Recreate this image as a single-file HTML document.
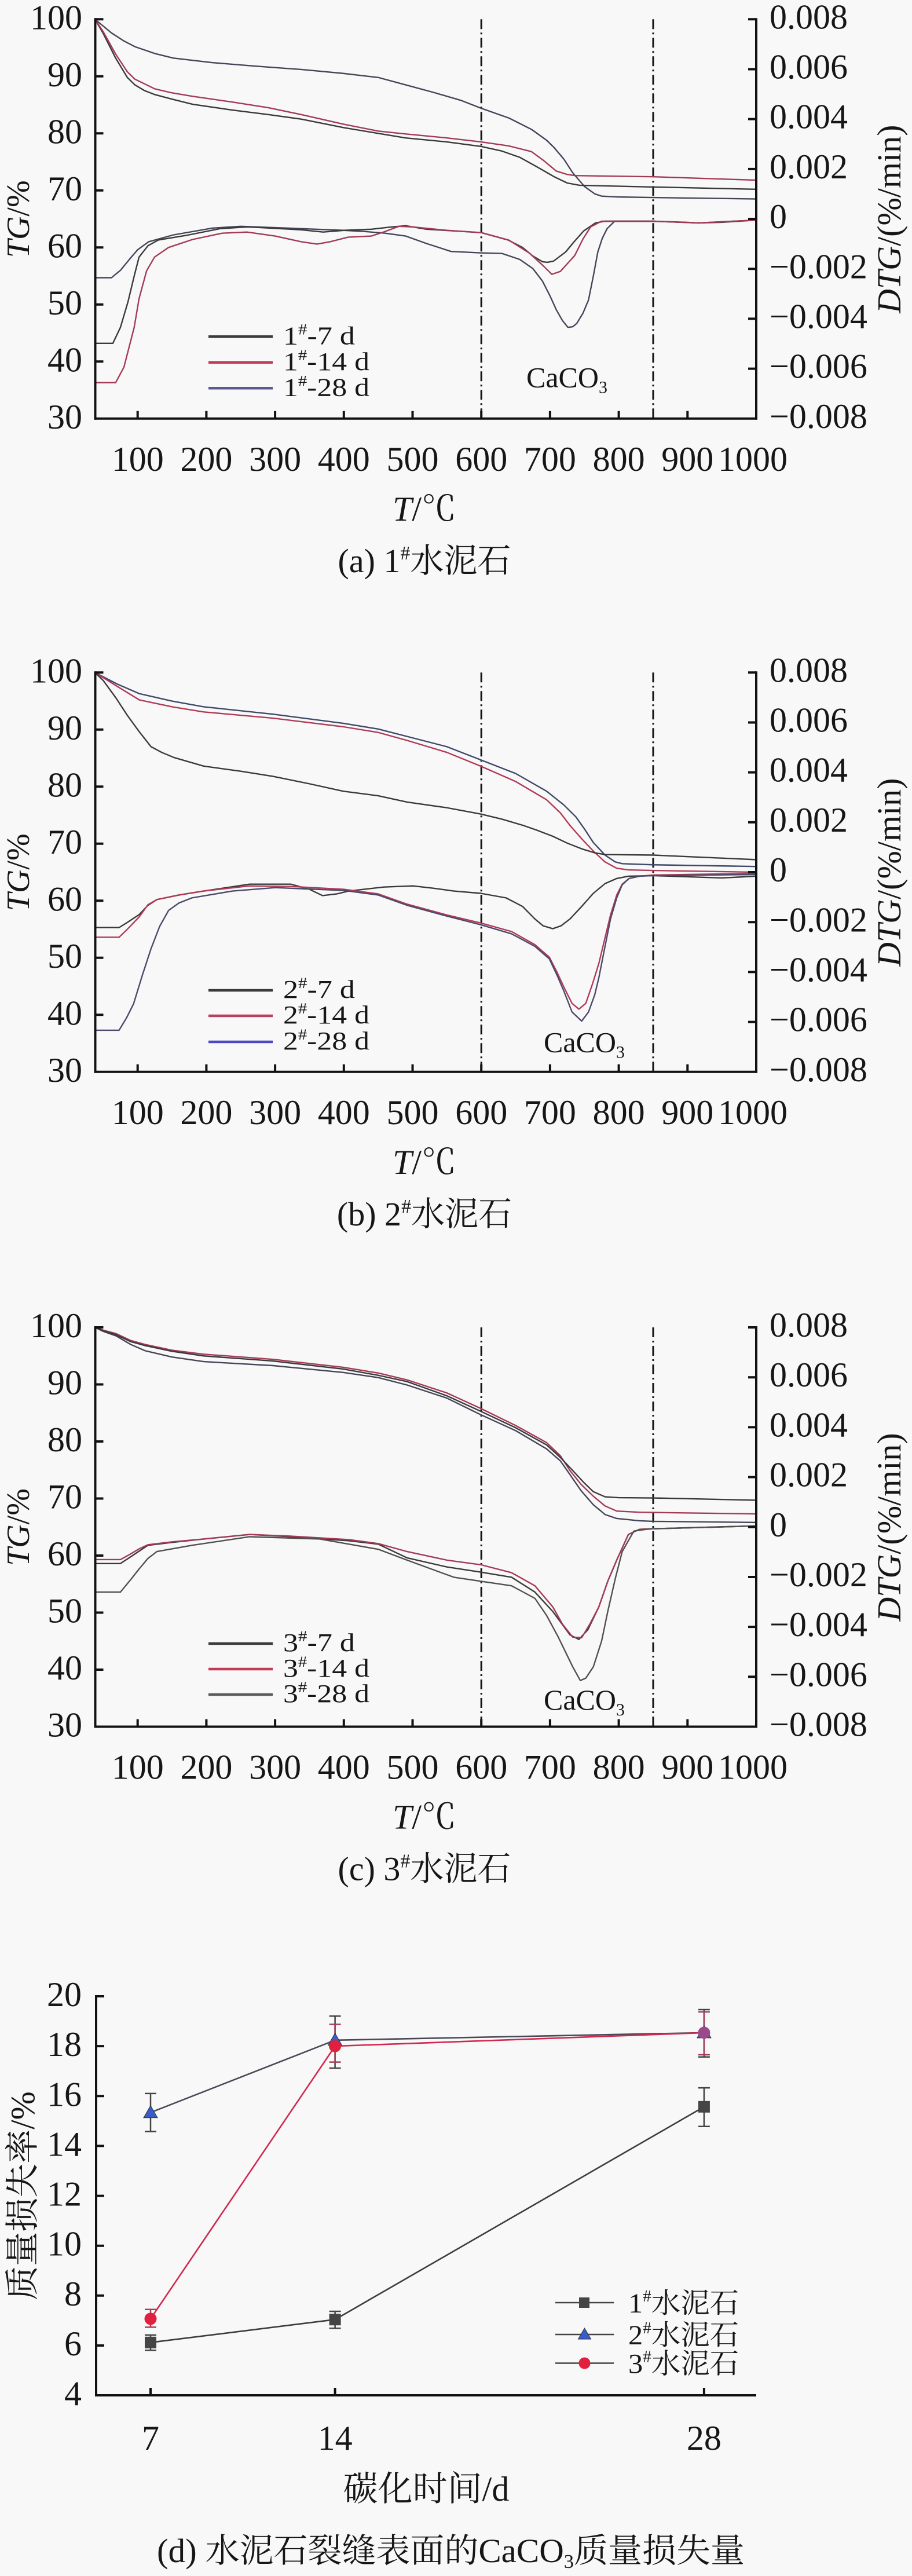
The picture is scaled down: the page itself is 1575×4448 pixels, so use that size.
<!DOCTYPE html>
<html><head><meta charset="utf-8">
<style>
html,body{margin:0;padding:0;background:#f8f8f8}
svg{display:block}
polyline.c{vector-effect:non-scaling-stroke;fill:none;stroke-width:2.4;stroke-linejoin:round;stroke-linecap:round}
</style></head>
<body>
<svg width="1575" height="4448" viewBox="0 0 1575 4448" xmlns="http://www.w3.org/2000/svg" font-family="'Liberation Serif','Noto Serif CJK SC',serif" fill="#161616">
<rect width="1575" height="4448" fill="#f8f8f8"/>

<!-- ================= PANEL (a) ================= -->
<g transform="translate(0,33.3)">
  <!-- dash-dot lines -->
  <g stroke="#111" stroke-width="3" stroke-dasharray="17 6 3 6">
    <line x1="831.2" y1="0" x2="831.2" y2="689.5"/>
    <line x1="1128" y1="0" x2="1128" y2="689.5"/>
  </g>
  <!-- curves -->
  <g transform="matrix(1.187 0 0 -9.85 119 985)">
    <polyline class="c" stroke="#45455a" points="38,100 50,98.8 62,97.6 80,96.2 96,95.2 125,94.0 152,93.2 209,92.4 270,91.8 338,91.2 400,90.5 450,89.8 490,88.5 530,87.2 570,85.8 600,84.4 640,82.7 673,80.7 695,78.8 706,77.5 720,75.5 733,73.1 750,70.7 765,69.4 775,69.0 800,68.85 850,68.75 1000,68.5"/>
    <polyline class="c" stroke="#3a3a3a" points="38,100 50,97.5 68,93.2 85,89.8 96,88.5 110,87.5 125,86.8 150,86.0 180,85.1 237,84.1 290,83.3 338,82.5 400,81.0 450,80.0 490,79.2 550,78.5 600,77.7 630,76.9 656,75.8 680,74.2 706,72.4 725,71.3 743,70.9 850,70.6 1000,70.2"/>
    <polyline class="c" stroke="#a33a56" points="38,100 50,97.8 68,93.9 85,90.8 96,89.5 125,87.8 150,87.1 180,86.5 237,85.5 290,84.5 338,83.3 400,81.6 450,80.4 490,79.9 550,79.2 600,78.5 640,77.8 673,76.8 690,75.3 709,73.4 725,72.8 736,72.6 850,72.4 1000,71.8"/>
    <polyline class="c" stroke="#45455a" points="38,54.7 62,54.7 75,56 90,58.2 100,59.6 116,61.0 152,62.2 209,63.4 250,63.7 338,63.3 400,63.0 430,62.8 460,62.5 490,62.0 520,60.7 556,59.3 600,59.05 630,58.95 656,57.9 675,56.3 689,54.1 700,51.5 709,49.1 718,47.2 726,46.0 733,46.1 739,46.7 748,48.5 756,50.8 763,55 769.5,59.2 776,61.6 783,63.3 794,64.6 850,64.6 900,64.4 916,64.3 950,64.4 1000,64.8"/>
    <polyline class="c" stroke="#3a3a3a" points="38,43.2 64,43.2 75,46 86,50.5 95,55 102,58.3 115,60.3 130,61.3 170,62.1 220,63.3 260,63.6 338,63.1 370,62.7 400,63.0 440,63.2 470,63.6 490,63.8 520,63.2 560,62.9 600,62.6 639,61.3 660,60 675,58.5 689,57.5 696,57.4 705,57.6 722.6,59.2 735,61 749,62.9 766,64.3 780,64.6 850,64.6 916,64.3 1000,64.8"/>
    <polyline class="c" stroke="#a33a56" points="38,36.3 68,36.3 80,39 95,46 102,51 113,55.9 124.5,58.3 145,60 180,61.4 223,62.5 259,62.7 300,62.0 338,61.0 361,60.6 380,61.0 406,61.8 440,62.0 460,62.8 480,63.7 500,63.6 550,63.0 600,62.6 640,61.3 670,59 690,56.8 702.6,55.3 715,55.8 736,58.6 748,61.5 759,63.6 775,64.6 850,64.6 916,64.3 1000,64.8"/>
  </g>
  <!-- axes -->
  <g stroke="#111" stroke-width="4" fill="none">
    <line x1="164.5" y1="-2" x2="164.5" y2="691.5"/>
    <line x1="1306" y1="-2" x2="1306" y2="691.5"/>
    <line x1="162.5" y1="689.5" x2="1308" y2="689.5"/>
    <path d="M164.5,0h14M164.5,98.5h14M164.5,197h14M164.5,295.5h14M164.5,394h14M164.5,492.5h14M164.5,591h14"/>
    <path d="M1306,0h-14M1306,86.19h-14M1306,172.38h-14M1306,258.56h-14M1306,344.75h-14M1306,430.94h-14M1306,517.13h-14M1306,603.31h-14"/>
    <path d="M237.7,689.5v-13M356.4,689.5v-13M475.1,689.5v-13M593.8,689.5v-13M712.5,689.5v-13M831.2,689.5v-13M949.9,689.5v-13M1068.6,689.5v-13M1187.3,689.5v-13"/>
  </g>
  <!-- tick labels -->
  <g font-size="60" text-anchor="end">
    <text x="142" y="17">100</text><text x="142" y="115.5">90</text><text x="142" y="214">80</text><text x="142" y="312.5">70</text><text x="142" y="411">60</text><text x="142" y="509.5">50</text><text x="142" y="608">40</text><text x="142" y="706.5">30</text>
  </g>
  <g font-size="60">
    <text x="1329" y="16">0.008</text><text x="1329" y="102.2">0.006</text><text x="1329" y="188.4">0.004</text><text x="1329" y="274.6">0.002</text><text x="1329" y="360.8">0</text><text x="1329" y="447">−0.002</text><text x="1329" y="533.1">−0.004</text><text x="1329" y="619.3">−0.006</text><text x="1329" y="705.5">−0.008</text>
  </g>
  <g font-size="60" text-anchor="middle">
    <text x="237.7" y="779.5">100</text><text x="356.4" y="779.5">200</text><text x="475.1" y="779.5">300</text><text x="593.8" y="779.5">400</text><text x="712.5" y="779.5">500</text><text x="831.2" y="779.5">600</text><text x="949.9" y="779.5">700</text><text x="1068.6" y="779.5">800</text><text x="1187.3" y="779.5">900</text><text x="1300" y="779.5">1000</text>
  </g>
  <text transform="translate(50,345) rotate(-90)" text-anchor="middle" font-size="56"><tspan font-style="italic">TG</tspan>/%</text>
  <text transform="translate(1555,345) rotate(-90)" text-anchor="middle" font-size="58"><tspan font-style="italic">DTG</tspan>/(%/min)</text>
  <text x="733" y="865.5" text-anchor="middle" font-size="60"><tspan font-style="italic">T</tspan>/℃</text>
  <text x="733" y="954.5" text-anchor="middle" font-size="58">(a) 1<tspan font-size="34" dy="-22">#</tspan><tspan dy="22">水泥石</tspan></text>
  <!-- legend -->
  <g stroke-width="4.5">
    <line x1="360" y1="548" x2="471" y2="548" stroke="#3a3a3a"/>
    <line x1="360" y1="592.5" x2="471" y2="592.5" stroke="#c23a5a"/>
    <line x1="360" y1="637" x2="471" y2="637" stroke="#5a5a90"/>
  </g>
  <g font-size="44">
    <text x="489" y="561" textLength="124" lengthAdjust="spacingAndGlyphs">1<tspan font-size="26" dy="-17">#</tspan><tspan dy="17">-7 d</tspan></text>
    <text x="489" y="605.5" textLength="149" lengthAdjust="spacingAndGlyphs">1<tspan font-size="26" dy="-17">#</tspan><tspan dy="17">-14 d</tspan></text>
    <text x="489" y="650" textLength="149" lengthAdjust="spacingAndGlyphs">1<tspan font-size="26" dy="-17">#</tspan><tspan dy="17">-28 d</tspan></text>
  </g>
  <text x="909" y="635" font-size="50">CaCO<tspan font-size="30" dy="10">3</tspan></text>
</g>

<!-- ================= PANEL (b) ================= -->
<g transform="translate(0,1161.3)">
  <g stroke="#111" stroke-width="3" stroke-dasharray="17 6 3 6">
    <line x1="831.2" y1="0" x2="831.2" y2="689.5"/>
    <line x1="1128" y1="0" x2="1128" y2="689.5"/>
  </g>
  <g transform="matrix(1.187 0 0 -9.85 119 985)">
    <polyline class="c" stroke="#3e4a6a" points="38,100 70,98 102.5,96.3 150,95.0 196,94.0 297,92.7 399,91.1 450,90.1 492,88.8 550,87.0 599,84.7 650,82.3 695,79.2 720,76.8 737.6,74.7 750,72.6 763,70.2 780,68.0 795,66.8 805,66.5 850,66.3 1000,66.0"/>
    <polyline class="c" stroke="#b03a58" points="38,100 70,97.6 102.5,95.2 150,94.0 196,93.1 297,92.0 399,90.5 450,89.5 492,88.1 550,86.0 599,83.6 650,80.9 695,77.7 715,75.4 729,73.2 745,71 763,68.7 780,66.8 797,65.7 814,65.4 850,65.3 1000,65.0"/>
    <polyline class="c" stroke="#3a3a3a" points="38,100 50,98.6 68.7,95.5 85,92.5 102.5,89.6 119.5,87.0 135,86.0 153,85.1 196,83.6 250,82.7 297,81.8 350,80.5 399,79.2 450,78.4 492,77.3 550,76.3 599,75.2 630,74.3 661,73.2 680,72.4 704,71.3 725,70.1 746,69.1 765,68.4 780,68.1 850,68.0 1000,67.2"/>
    <polyline class="c" stroke="#3a3a3a" points="38,55.3 73,55.3 85,56.2 102.5,57.6 115,59.2 128,60.2 160,61.0 196,61.7 263,62.9 323,62.9 350,62.0 369,60.9 390,61.2 407,61.7 458,62.4 500.5,62.6 530,62.2 560,61.7 599,61.3 636,60.5 660,59 678,56.8 690,55.6 704,55.1 716,55.6 729,56.8 746,59.0 763,61.3 780,63.0 797,63.9 814,64.3 850,64.4 900,64.2 950,64.0 1000,64.3"/>
    <polyline class="c" stroke="#b03a58" points="38,53.6 73,53.6 85,55.0 102.5,57.2 115,59.3 128,60.2 160,61.0 196,61.7 263,62.6 323,62.5 400,62.0 450,61.2 492,59.4 550,57.5 599,56.1 644,54.6 678,52.3 699,50.1 710,47.5 720,44.9 732,42.0 742,41.0 752,42 762,45.5 771,49 780,53.5 788,57.5 797,61 805,62.9 815,63.9 830,64.3 850,64.5 1000,64.8"/>
    <polyline class="c" stroke="#4a4a6a" points="38,37.3 73,37.3 84,39.5 94,41.9 107,47 119.5,51.6 132,55.5 145,58.3 160,59.6 179,60.5 238,61.7 300,62.3 400,61.8 450,61.0 492,59.2 550,57.3 599,55.8 644,54.2 678,52.0 699,49.8 710,47.0 720,44.2 732,40.5 746,38.9 756,40.5 765,43.5 771,46.5 780,52 788,56.8 797,60.5 805,62.8 815,63.9 830,64.3 850,64.4 1000,64.6"/>
  </g>
  <g stroke="#111" stroke-width="4" fill="none">
    <line x1="164.5" y1="-2" x2="164.5" y2="691.5"/>
    <line x1="1306" y1="-2" x2="1306" y2="691.5"/>
    <line x1="162.5" y1="689.5" x2="1308" y2="689.5"/>
    <path d="M164.5,0h14M164.5,98.5h14M164.5,197h14M164.5,295.5h14M164.5,394h14M164.5,492.5h14M164.5,591h14"/>
    <path d="M1306,0h-14M1306,86.19h-14M1306,172.38h-14M1306,258.56h-14M1306,344.75h-14M1306,430.94h-14M1306,517.13h-14M1306,603.31h-14"/>
    <path d="M237.7,689.5v-13M356.4,689.5v-13M475.1,689.5v-13M593.8,689.5v-13M712.5,689.5v-13M831.2,689.5v-13M949.9,689.5v-13M1068.6,689.5v-13M1187.3,689.5v-13"/>
  </g>
  <g font-size="60" text-anchor="end">
    <text x="142" y="17">100</text><text x="142" y="115.5">90</text><text x="142" y="214">80</text><text x="142" y="312.5">70</text><text x="142" y="411">60</text><text x="142" y="509.5">50</text><text x="142" y="608">40</text><text x="142" y="706.5">30</text>
  </g>
  <g font-size="60">
    <text x="1329" y="16">0.008</text><text x="1329" y="102.2">0.006</text><text x="1329" y="188.4">0.004</text><text x="1329" y="274.6">0.002</text><text x="1329" y="360.8">0</text><text x="1329" y="447">−0.002</text><text x="1329" y="533.1">−0.004</text><text x="1329" y="619.3">−0.006</text><text x="1329" y="705.5">−0.008</text>
  </g>
  <g font-size="60" text-anchor="middle">
    <text x="237.7" y="779.5">100</text><text x="356.4" y="779.5">200</text><text x="475.1" y="779.5">300</text><text x="593.8" y="779.5">400</text><text x="712.5" y="779.5">500</text><text x="831.2" y="779.5">600</text><text x="949.9" y="779.5">700</text><text x="1068.6" y="779.5">800</text><text x="1187.3" y="779.5">900</text><text x="1300" y="779.5">1000</text>
  </g>
  <text transform="translate(50,345) rotate(-90)" text-anchor="middle" font-size="56"><tspan font-style="italic">TG</tspan>/%</text>
  <text transform="translate(1555,345) rotate(-90)" text-anchor="middle" font-size="58"><tspan font-style="italic">DTG</tspan>/(%/min)</text>
  <text x="733" y="865.5" text-anchor="middle" font-size="60"><tspan font-style="italic">T</tspan>/℃</text>
  <text x="733" y="954.5" text-anchor="middle" font-size="58">(b) 2<tspan font-size="34" dy="-22">#</tspan><tspan dy="22">水泥石</tspan></text>
  <g stroke-width="4.5">
    <line x1="360" y1="548.7" x2="471" y2="548.7" stroke="#3a3a3a"/>
    <line x1="360" y1="592.7" x2="471" y2="592.7" stroke="#b84060"/>
    <line x1="360" y1="637.7" x2="471" y2="637.7" stroke="#4a48c8"/>
  </g>
  <g font-size="44">
    <text x="489" y="561.5" textLength="124" lengthAdjust="spacingAndGlyphs">2<tspan font-size="26" dy="-17">#</tspan><tspan dy="17">-7 d</tspan></text>
    <text x="489" y="605.5" textLength="149" lengthAdjust="spacingAndGlyphs">2<tspan font-size="26" dy="-17">#</tspan><tspan dy="17">-14 d</tspan></text>
    <text x="489" y="650.5" textLength="149" lengthAdjust="spacingAndGlyphs">2<tspan font-size="26" dy="-17">#</tspan><tspan dy="17">-28 d</tspan></text>
  </g>
  <text x="939" y="655" font-size="50">CaCO<tspan font-size="30" dy="10">3</tspan></text>
</g>

<!-- ================= PANEL (c) ================= -->
<g transform="translate(0,2292)">
  <g stroke="#111" stroke-width="3" stroke-dasharray="17 6 3 6">
    <line x1="831.2" y1="0" x2="831.2" y2="689.5"/>
    <line x1="1128" y1="0" x2="1128" y2="689.5"/>
  </g>
  <g transform="matrix(1.187 0 0 -9.85 119 985)">
    <polyline class="c" stroke="#45455a" points="38,100 50,99.3 68.7,98.5 90,97.0 111,95.9 150,94.8 196,94.0 297,93.3 399,92.1 450,91.2 492,89.9 550,87.6 599,84.7 650,81.9 695,78.7 715,76.6 729,74.2 745,71.4 763,68.9 780,67.2 797,66.5 830,66.1 850,66.0 1000,65.8"/>
    <polyline class="c" stroke="#a33a56" points="38,100 50,99.5 68.7,98.9 90,97.7 111,97.0 150,96.0 196,95.3 297,94.4 399,93.0 450,92.0 492,90.8 550,88.5 599,85.8 650,82.8 695,79.8 715,77.5 729,74.9 745,72.5 763,70.4 780,68.7 797,67.8 830,67.6 850,67.55 1000,67.3"/>
    <polyline class="c" stroke="#3a3a3a" points="38,100 50,99.4 68.7,98.7 90,97.5 111,96.8 150,95.8 196,95.0 297,94.1 399,92.7 450,91.6 492,90.5 550,88.0 599,85.3 650,82.4 695,79.4 715,77.2 733,74.9 750,72.7 763,71.2 780,70.3 800,70.15 850,70.1 1000,69.7"/>
    <polyline class="c" stroke="#3a3a3a" points="38,58.6 75,58.6 90,59.8 102.5,60.8 115,61.8 150,62.3 196,62.9 263,63.7 323,63.3 407,62.6 450,62.0 492,59.6 550,58.0 599,57.1 644,56.2 678,53.6 704,50.2 729,46.1 742,45.3 755,47 771,51 784,55.5 797,59.2 814,63.7 830,64.6 850,64.7 1000,65.2"/>
    <polyline class="c" stroke="#a33a56" points="38,59.3 75,59.3 90,60.3 102.5,61.2 115,61.9 150,62.4 196,62.9 263,63.7 323,63.4 407,62.8 450,62.1 492,60.7 550,59.2 599,58.4 644,57.0 678,54.7 704,51.0 718,48 733,45.7 746,45.6 758,48 771,51 784,55.5 797,59.2 814,63.7 830,64.6 850,64.7 1000,65.2"/>
    <polyline class="c" stroke="#505050" points="38,53.6 75,53.6 90,55.8 102.5,57.7 115,59.5 128,60.7 179,61.8 263,63.3 365,62.9 450,61.1 492,59.2 560,56.2 599,55.5 644,54.7 678,52.5 695,49.5 712,45.7 733,40.5 744,38.1 752,38.5 763,40.5 775,45 784,50.2 795,56 805,60.7 822,64.3 840,64.6 850,64.7 1000,65.2"/>
  </g>
  <g stroke="#111" stroke-width="4" fill="none">
    <line x1="164.5" y1="-2" x2="164.5" y2="691.5"/>
    <line x1="1306" y1="-2" x2="1306" y2="691.5"/>
    <line x1="162.5" y1="689.5" x2="1308" y2="689.5"/>
    <path d="M164.5,0h14M164.5,98.5h14M164.5,197h14M164.5,295.5h14M164.5,394h14M164.5,492.5h14M164.5,591h14"/>
    <path d="M1306,0h-14M1306,86.19h-14M1306,172.38h-14M1306,258.56h-14M1306,344.75h-14M1306,430.94h-14M1306,517.13h-14M1306,603.31h-14"/>
    <path d="M237.7,689.5v-13M356.4,689.5v-13M475.1,689.5v-13M593.8,689.5v-13M712.5,689.5v-13M831.2,689.5v-13M949.9,689.5v-13M1068.6,689.5v-13M1187.3,689.5v-13"/>
  </g>
  <g font-size="60" text-anchor="end">
    <text x="142" y="17">100</text><text x="142" y="115.5">90</text><text x="142" y="214">80</text><text x="142" y="312.5">70</text><text x="142" y="411">60</text><text x="142" y="509.5">50</text><text x="142" y="608">40</text><text x="142" y="706.5">30</text>
  </g>
  <g font-size="60">
    <text x="1329" y="16">0.008</text><text x="1329" y="102.2">0.006</text><text x="1329" y="188.4">0.004</text><text x="1329" y="274.6">0.002</text><text x="1329" y="360.8">0</text><text x="1329" y="447">−0.002</text><text x="1329" y="533.1">−0.004</text><text x="1329" y="619.3">−0.006</text><text x="1329" y="705.5">−0.008</text>
  </g>
  <g font-size="60" text-anchor="middle">
    <text x="237.7" y="779.5">100</text><text x="356.4" y="779.5">200</text><text x="475.1" y="779.5">300</text><text x="593.8" y="779.5">400</text><text x="712.5" y="779.5">500</text><text x="831.2" y="779.5">600</text><text x="949.9" y="779.5">700</text><text x="1068.6" y="779.5">800</text><text x="1187.3" y="779.5">900</text><text x="1300" y="779.5">1000</text>
  </g>
  <text transform="translate(50,345) rotate(-90)" text-anchor="middle" font-size="56"><tspan font-style="italic">TG</tspan>/%</text>
  <text transform="translate(1555,345) rotate(-90)" text-anchor="middle" font-size="58"><tspan font-style="italic">DTG</tspan>/(%/min)</text>
  <text x="733" y="865.5" text-anchor="middle" font-size="60"><tspan font-style="italic">T</tspan>/℃</text>
  <text x="733" y="954.5" text-anchor="middle" font-size="58">(c) 3<tspan font-size="34" dy="-22">#</tspan><tspan dy="22">水泥石</tspan></text>
  <g stroke-width="4.5">
    <line x1="360" y1="546" x2="471" y2="546" stroke="#3a3a3a"/>
    <line x1="360" y1="590" x2="471" y2="590" stroke="#c23a5a"/>
    <line x1="360" y1="634" x2="471" y2="634" stroke="#5a5a5a"/>
  </g>
  <g font-size="44">
    <text x="489" y="559" textLength="124" lengthAdjust="spacingAndGlyphs">3<tspan font-size="26" dy="-17">#</tspan><tspan dy="17">-7 d</tspan></text>
    <text x="489" y="603" textLength="149" lengthAdjust="spacingAndGlyphs">3<tspan font-size="26" dy="-17">#</tspan><tspan dy="17">-14 d</tspan></text>
    <text x="489" y="647" textLength="149" lengthAdjust="spacingAndGlyphs">3<tspan font-size="26" dy="-17">#</tspan><tspan dy="17">-28 d</tspan></text>
  </g>
  <text x="939" y="660" font-size="50">CaCO<tspan font-size="30" dy="10">3</tspan></text>
</g>

<!-- ================= PANEL (d) ================= -->
<g>
  <!-- series lines -->
  <g fill="none" stroke-width="2.6" stroke-linejoin="round">
    <polyline points="260,4044.8 578.6,4005.2 1215.9,3637.8" stroke="#3c3c3c"/>
    <polyline points="260,3647.7 578.6,3522.8 1215.9,3509.9" stroke="#484858"/>
    <polyline points="260,4003.9 578.6,3533.1 1215.9,3509.9" stroke="#d0284e"/>
  </g>
  <!-- error bars -->
  <g fill="none" stroke-width="2.5">
    <path stroke="#444" d="M260,4031.9V4058.2M250,4031.9h20M250,4058.2h20 M578.6,3991V4020.3M568.6,3991h20M568.6,4020.3h20 M1215.9,3605.1V3671.8M1205.9,3605.1h20M1205.9,3671.8h20"/>
    <path stroke="#444" d="M260,3614.9V3680.5M250,3614.9h20M250,3680.5h20 M578.6,3481.3V3571M568.6,3481.3h20M568.6,3571h20 M1215.9,3470V3551.8M1205.9,3470h20M1205.9,3551.8h20"/>
    <path stroke="#a04058" d="M260,3987.7V4018.4M250,3987.7h20M250,4018.4h20 M578.6,3495.5V3560.6M568.6,3495.5h20M568.6,3560.6h20 M1215.9,3474V3548M1205.9,3474h20M1205.9,3548h20"/>
  </g>
  <!-- markers -->
  <g fill="#454545">
    <rect x="250" y="4034.8" width="20" height="20"/>
    <rect x="568.6" y="3995.2" width="20" height="20"/>
    <rect x="1205.9" y="3627.8" width="20" height="20"/>
  </g>
  <g fill="#3a5cc8" stroke="#333" stroke-width="1">
    <polygon points="260,3635.7 248,3656.7 272,3656.7"/>
    <polygon points="578.6,3510.8 566.6,3531.8 590.6,3531.8"/>
    <polygon points="1215.9,3497.9 1203.9,3518.9 1227.9,3518.9"/>
  </g>
  <g fill="#e0203c">
    <circle cx="260" cy="4003.9" r="10.5"/>
    <circle cx="578.6" cy="3533.1" r="10.5"/>
    <circle cx="1215.9" cy="3509.9" r="10.5" fill="#9a4a8a"/>
  </g>
  <!-- axes -->
  <g stroke="#111" stroke-width="4" fill="none">
    <line x1="166" y1="3445" x2="166" y2="4138"/>
    <line x1="164" y1="4136" x2="1306" y2="4136"/>
    <path d="M166,3447h14M166,3533.1h14M166,3619.3h14M166,3705.4h14M166,3791.6h14M166,3877.7h14M166,3963.8h14M166,4050h14"/>
    <path d="M260,4136v-13M578.6,4136v-13M1215.9,4136v-13"/>
  </g>
  <g font-size="60" text-anchor="end">
    <text x="141" y="3464">20</text><text x="141" y="3550.1">18</text><text x="141" y="3636.3">16</text><text x="141" y="3722.4">14</text><text x="141" y="3808.6">12</text><text x="141" y="3894.7">10</text><text x="141" y="3980.8">8</text><text x="141" y="4067">6</text><text x="141" y="4153">4</text>
  </g>
  <g font-size="60" text-anchor="middle">
    <text x="260" y="4230">7</text><text x="578.6" y="4230">14</text><text x="1215.9" y="4230">28</text>
  </g>
  <text x="736" y="4318" text-anchor="middle" font-size="60">碳化时间/d</text>
  <text transform="translate(59,3791.5) rotate(-90)" text-anchor="middle" font-size="59">质量损失率/%</text>
  <text x="778.5" y="4424" text-anchor="middle" font-size="58" textLength="1015" lengthAdjust="spacingAndGlyphs">(d) 水泥石裂缝表面的CaCO<tspan font-size="34" dy="10">3</tspan><tspan dy="-10">质量损失量</tspan></text>
  <!-- legend -->
  <g stroke="#444" stroke-width="2.6">
    <line x1="959" y1="3976" x2="1060" y2="3976"/>
    <line x1="959" y1="4031" x2="1060" y2="4031"/>
    <line x1="959" y1="4080.5" x2="1060" y2="4080.5"/>
  </g>
  <rect x="1000" y="3967" width="18" height="18" fill="#454545"/>
  <polygon points="1009.5,4020 998.5,4039 1020.5,4039" fill="#3a5cc8" stroke="#333" stroke-width="1"/>
  <circle cx="1009.5" cy="4080.5" r="10" fill="#e0203c"/>
  <g font-size="48">
    <text x="1085" y="3993" textLength="191" lengthAdjust="spacingAndGlyphs">1<tspan font-size="28" dy="-19">#</tspan><tspan dy="19">水泥石</tspan></text>
    <text x="1085" y="4048" textLength="191" lengthAdjust="spacingAndGlyphs">2<tspan font-size="28" dy="-19">#</tspan><tspan dy="19">水泥石</tspan></text>
    <text x="1085" y="4097.5" textLength="191" lengthAdjust="spacingAndGlyphs">3<tspan font-size="28" dy="-19">#</tspan><tspan dy="19">水泥石</tspan></text>
  </g>
</g>
</svg>
</body></html>
